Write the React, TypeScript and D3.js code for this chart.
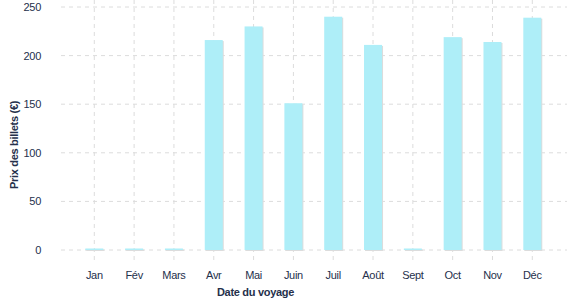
import React from "react";
import * as d3 from "d3";

const months = ["Jan", "Fév", "Mars", "Avr", "Mai", "Juin", "Juil", "Août", "Sept", "Oct", "Nov", "Déc"];
const prices = [1, 1, 1, 216, 230, 151, 240, 211, 1, 219, 214, 239];
const yTicks = [0, 50, 100, 150, 200, 250];

const W = 577;
const H = 300;
const TEXT = "#25304b";
const FONT = "'Liberation Sans', Arial, sans-serif";

export default function App() {
  const x = d3.scalePoint<string>().domain(months).range([94.3, 532.3]);
  const y = d3.scaleLinear().domain([0, 250]).range([250, 7]);
  const bw = 18;
  return (
    <svg width={W} height={H} style={{ position: "absolute", left: 0, top: 0 }} fontFamily={FONT}>
      {/* vertical grid */}
      {months.map((m) => (
        <line key={"v" + m} x1={x(m)} x2={x(m)} y1={0} y2={262} stroke="#dcdcdc" strokeDasharray="4,4" />
      ))}
      {/* horizontal grid */}
      {yTicks.map((t) => (
        <line key={"h" + t} x1={61} x2={567} y1={y(t)} y2={y(t)} stroke="#dcdcdc" strokeDasharray="4,4" />
      ))}
      {/* bars with shadow */}
      {months.map((m, i) => {
        const top = y(prices[i]);
        const h = Math.max(y(0) - top, 1.5);
        const cx = x(m)!;
        return (
          <g key={"b" + m}>
            <rect x={cx - bw / 2 + 1} y={y(0) - h + 1} width={bw} height={h} fill="#dcdcdc" />
            <rect x={cx - bw / 2} y={y(0) - h} width={bw} height={h} fill="#aeeef8" />
          </g>
        );
      })}
      {/* y tick labels */}
      {yTicks.map((t) => (
        <text key={"yt" + t} x={41} y={y(t) + 4} textAnchor="end" fontSize={11} fill={TEXT} letterSpacing={-0.3}>
          {t}
        </text>
      ))}
      {/* x tick labels */}
      {months.map((m) => (
        <text key={"xt" + m} x={x(m)} y={279} textAnchor="middle" fontSize={11} fill={TEXT} letterSpacing={-0.3}>
          {m}
        </text>
      ))}
      {/* axis titles */}
      <text x={255.5} y={296} textAnchor="middle" fontSize={11} fontWeight="bold" fill={TEXT} letterSpacing={-0.3}>
        Date du voyage
      </text>
      <text
        transform="translate(18,145) rotate(-90)"
        textAnchor="middle"
        fontSize={11}
        fontWeight="bold"
        fill={TEXT}
        letterSpacing={-0.3}
      >
        Prix des billets (€)
      </text>
    </svg>
  );
}
